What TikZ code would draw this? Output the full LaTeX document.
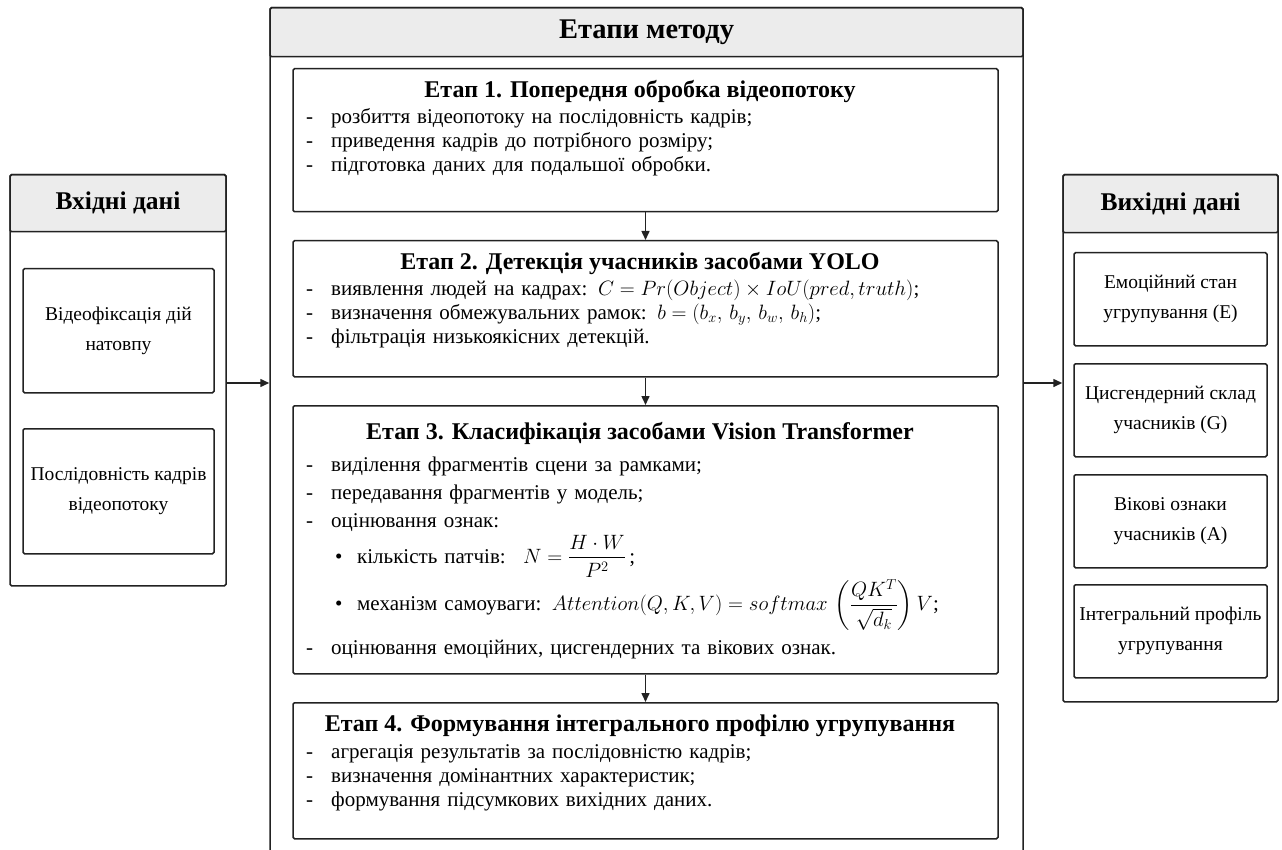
\documentclass[tikz,border=0pt]{standalone}
\usepackage{amsmath}
\usepackage{fontspec}
\setmainfont{Liberation Serif}
\usetikzlibrary{arrows.meta}

\definecolor{hdgray}{HTML}{ECECEC}
\definecolor{ink}{HTML}{222222}
\newcommand{\dsh}{\makebox[25pt][l]{-}}
\newcommand{\blt}{\hspace*{29pt}\makebox[22pt][l]{\textbullet}}

\begin{document}
\begin{tikzpicture}[x=1pt,y=-1pt,
  boxline/.style={draw=ink,line width=1.5pt,rounded corners=1.5pt,anchor=north,inner sep=0pt},
  head/.style={boxline,fill=hdgray,font=\bfseries\fontsize{25.5}{28}\selectfont},
  itembox/.style={boxline,align=center,font=\fontsize{19.5}{30}\selectfont},
  stagebox/.style={boxline,minimum width=705pt},
  stagetitle/.style={font=\bfseries\fontsize{24}{28}\selectfont},
  stagetext/.style={anchor=north west,inner sep=0pt,text width=680pt,align=left,
    font=\fontsize{21}{24}\selectfont},
  arr/.style={-{Triangle[length=9pt,width=8pt]},draw=ink,line width=1.5pt}]
 \useasboundingbox (0,0) rectangle (1282,850);

 % input data
 \node[head,minimum width=216pt,minimum height=57pt] (inphd) at (118,174) {Вхідні дані};
 \node[boxline,minimum width=216pt,minimum height=411pt] (inp) at (118,174) {};
 \node[itembox,minimum width=191pt,minimum height=124pt] (in1) at (118.5,268) {Відеофіксація дій\\натовпу};
 \node[itembox,minimum width=191pt,minimum height=125pt] (in2) at (118.5,428) {Послідовність кадрів\\відеопотоку};

 % stages
 \node[head,minimum width=753pt,minimum height=49pt,font=\bfseries\fontsize{28.5}{30}\selectfont] (stghd) at (646.5,7) {Етапи методу};
 \node[boxline,minimum width=753pt,minimum height=870pt] (stg) at (646.5,7) {};

 \node[stagebox,minimum height=143pt] (s1) at (645.5,68) {};
 \node[stagetitle] (s1t) at (640,92) {Етап 1. Попередня обробка відеопотоку};
 \node[stagetext] (s1x) at (306,108) {\dsh розбиття відеопотоку на послідовність кадрів;\\
  \dsh приведення кадрів до потрібного розміру;\\
  \dsh підготовка даних для подальшої обробки.};

 \node[stagebox,minimum height=136pt] (s2) at (645.5,240) {};
 \node[stagetitle] (s2t) at (640,264) {Етап 2. Детекція учасників засобами YOLO};
 \node[stagetext] (s2x) at (306,280) {\dsh виявлення людей на кадрах: $C = Pr(Object)\times IoU(pred, truth)$;\\
  \dsh визначення обмежувальних рамок: $b = (b_x,\, b_y,\, b_w,\, b_h)$;\\
  \dsh фільтрація низькоякісних детекцій.};

 \node[stagebox,minimum height=268pt] (s3) at (645.5,405) {};
 \node[stagetitle] (s3t) at (640,433) {Етап 3. Класифікація засобами Vision Transformer};
 \node[stagetext,font=\fontsize{21}{28}\selectfont] (s3x) at (306,457) {\dsh виділення фрагментів сцени за рамками;\\
  \dsh передавання фрагментів у модель;\\
  \dsh оцінювання ознак:\\[2pt]
  \blt кількість патчів: \ $N = \dfrac{H\cdot W}{P^2}$\,;\\[1pt]
  \blt механізм самоуваги: $Attention(Q, K, V) = softmax\,\left(\dfrac{QK^T}{\sqrt{d_k}}\right)V$;\\[9pt]
  \dsh оцінювання емоційних, цисгендерних та вікових ознак.};

 \node[stagebox,minimum height=136pt] (s4) at (645.5,702) {};
 \node[stagetitle] (s4t) at (640,726) {Етап 4. Формування інтегрального профілю угрупування};
 \node[stagetext] (s4x) at (306,744) {\dsh агрегація результатів за послідовністю кадрів;\\
  \dsh визначення домінантних характеристик;\\
  \dsh формування підсумкових вихідних даних.};

 % output data
 \node[head,minimum width=215pt,minimum height=58pt] (outhd) at (1170.5,174) {Вихідні дані};
 \node[boxline,minimum width=215pt,minimum height=527pt] (out) at (1170.5,174) {};
 \node[itembox,minimum width=193pt,minimum height=93pt] (o1) at (1170.5,252) {Емоційний стан\\угрупування (Е)};
 \node[itembox,minimum width=193pt,minimum height=93pt] (o2) at (1170.5,363) {Цисгендерний склад\\учасників (G)};
 \node[itembox,minimum width=193pt,minimum height=93pt] (o3) at (1170.5,474) {Вікові ознаки\\учасників (А)};
 \node[itembox,minimum width=193pt,minimum height=93pt] (o4) at (1170.5,584) {Інтегральний профіль\\угрупування};

 % arrows
 \coordinate (lvl) at (0,383);
 \draw[arr] (inp.east |- lvl) -- (stg.west |- lvl);
 \draw[arr] (stg.east |- lvl) -- (out.west |- lvl);
 \draw[arr] (s1) -- (s2);
 \draw[arr] (s2) -- (s3);
 \draw[arr] (s3) -- (s4);
\end{tikzpicture}
\end{document}
